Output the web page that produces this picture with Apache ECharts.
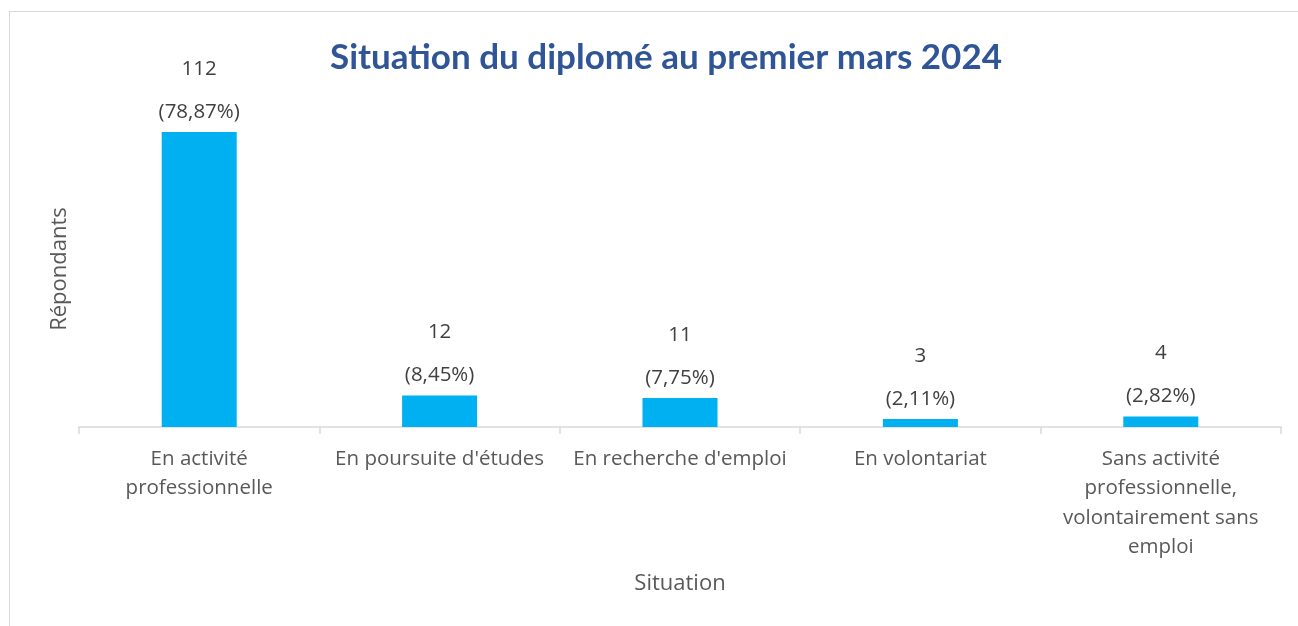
<!DOCTYPE html>
<html>
<head>
  <meta charset="utf-8">
  <title>Situation du diplomé au premier mars 2024</title>
  <script src="https://cdn.jsdelivr.net/npm/echarts@6/dist/echarts.min.js"></script>
  <style>
    html, body { margin: 0; padding: 0; background: #fff; overflow: hidden; }
    #cadre {
      position: absolute;
      left: 9px; top: 11px;
      width: 1400px; height: 700px;
      border: 1.5px solid #d9d9d9;
    }
    #chart { position: absolute; left: 0; top: 0; width: 1298px; height: 626px; }
  </style>
</head>
<body>
  <div id="cadre"></div>
  <div id="chart"></div>
  <script>
    // Données
    const situations = [
      'En activité\nprofessionnelle',
      "En poursuite d'études",
      "En recherche d'emploi",
      'En volontariat',
      'Sans activité\nprofessionnelle,\nvolontairement sans\nemploi'
    ];
    const repondants = [112, 12, 11, 3, 4];
    const pourcentages = ['78,87%', '8,45%', '7,75%', '2,11%', '2,82%'];

    const police = '"Open Sans", "Noto Sans", sans-serif';
    var myChart = echarts.init(document.getElementById('chart'));

    var option = {
      animation: false,
      title: {
        text: 'Situation du diplomé au premier mars 2024',
        left: 661,
        textAlign: 'center',
        top: 35,
        textStyle: {
          fontFamily: 'Lato, "Noto Sans", sans-serif',
          fontSize: 35,
          fontWeight: 'bold',
          color: '#2F5597'
        }
      },
      grid: { left: 79, right: 17, top: 111, bottom: 199 },
      xAxis: {
        type: 'category',
        data: situations,
        name: 'Situation',
        nameLocation: 'middle',
        nameGap: 146,
        nameTextStyle: { fontFamily: police, fontSize: 22, color: '#595959' },
        axisLine: { lineStyle: { color: '#d9d9d9', width: 1.5 } },
        axisTick: { show: true, length: 7, lineStyle: { color: '#d9d9d9', width: 1.5 } },
        axisLabel: {
          interval: 0,
          margin: 17,
          fontFamily: police,
          fontSize: 20.5,
          lineHeight: 29.5,
          color: '#595959'
        }
      },
      yAxis: {
        type: 'value',
        min: 0,
        max: 120,
        name: 'Répondants',
        nameLocation: 'middle',
        nameGap: 8,
        nameTextStyle: { fontFamily: police, fontSize: 22, color: '#595959' },
        axisLine: { show: false },
        axisTick: { show: false },
        axisLabel: { show: false },
        splitLine: { show: false }
      },
      series: [
        {
          name: 'Répondants',
          type: 'bar',
          data: repondants,
          barWidth: 75,
          itemStyle: { color: '#00B0F0' },
          label: {
            show: true,
            position: 'top',
            distance: 7,
            formatter: function (p) {
              return '{v|' + p.value + '}\n{p|(' + pourcentages[p.dataIndex] + ')}';
            },
            rich: {
              v: { fontFamily: police, fontSize: 20.5, color: '#404040', lineHeight: 60 },
              p: { fontFamily: police, fontSize: 20.5, color: '#404040', lineHeight: 26 }
            }
          }
        }
      ]
    };

    myChart.setOption(option);
  </script>
</body>
</html>
